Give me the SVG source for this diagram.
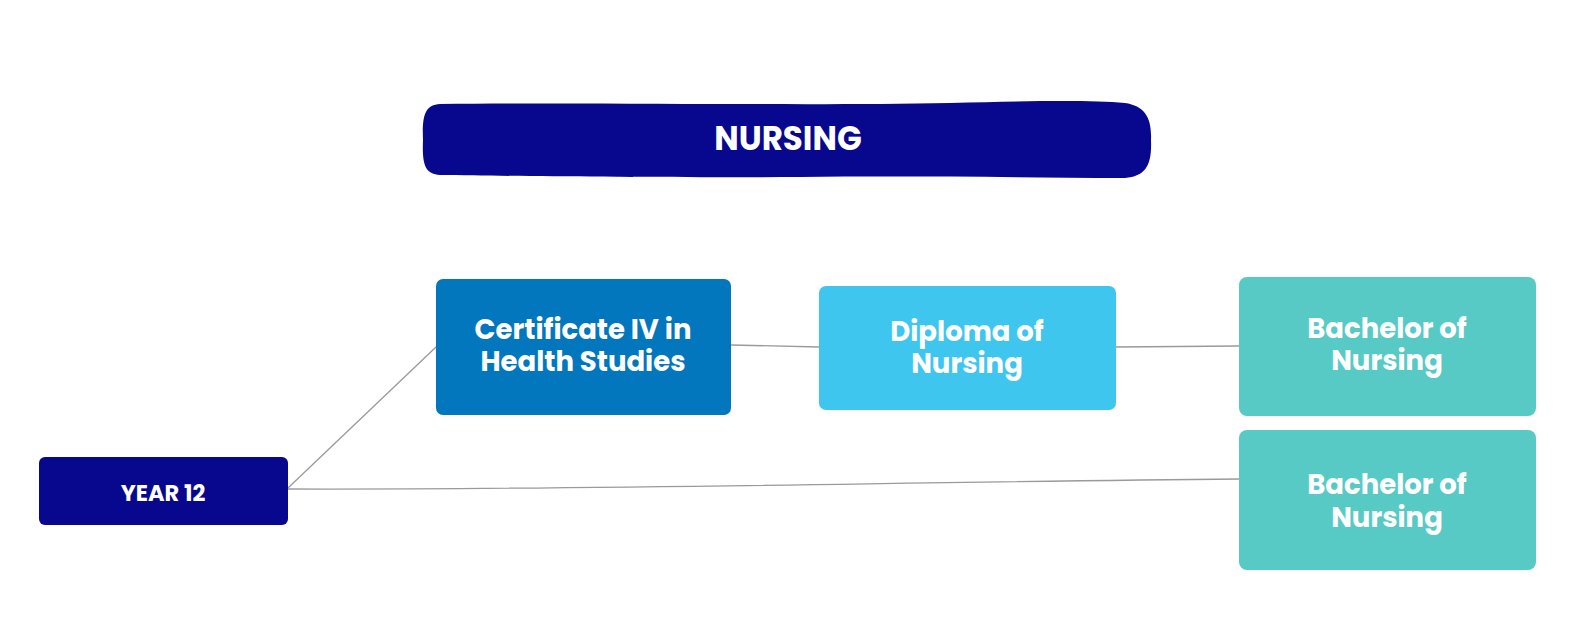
<svg xmlns="http://www.w3.org/2000/svg" width="1579" height="641" viewBox="0 0 1579 641">
<style>
.lbl{font-family:"Poppins","Open Sans","Liberation Sans",sans-serif;font-weight:700;fill:#ffffff;text-anchor:middle}
.big{font-size:27.5px}
.conn{fill:none;stroke:#9a9a9a;stroke-width:1.3}
</style>
<rect width="1579" height="641" fill="#ffffff"/>
<g id="title">
<path d="M440,104 C600,102 800,106 950,103 C1030,101 1090,100 1125,103 C1145,106 1152,118 1151,140 C1152,165 1146,176 1125,178 C1000,177 900,176 800,177 C650,178 520,176 440,175 C425,174 422,165 423,140 C422,115 425,105 440,104 Z" fill="#08088F"/>
<text class="lbl" x="788" y="150" font-size="32.5">NURSING</text>
</g>
<g id="connectors">
<path class="conn" d="M288,488 L436,347"/>
<path class="conn" d="M731,345 L819,347"/>
<path class="conn" d="M1116,347 L1239,346"/>
<path class="conn" d="M288,489 C600,490 900,482 1239,479"/>
</g>
<g id="year12">
<rect x="39" y="457" width="249" height="68" rx="6" fill="#08088F"/>
<text class="lbl" x="163" y="501" font-size="22.5">YEAR 12</text>
</g>
<g id="cert4">
<rect x="436" y="279" width="295" height="136" rx="7" fill="#0277BD"/>
<text class="lbl big" x="583" y="339">Certificate IV in</text>
<text class="lbl big" x="583" y="371">Health Studies</text>
</g>
<g id="diploma">
<rect x="819" y="286" width="297" height="124" rx="7" fill="#3EC6EF"/>
<text class="lbl big" x="967" y="341">Diploma of</text>
<text class="lbl big" x="967" y="373">Nursing</text>
</g>
<g id="bachelor1">
<rect x="1239" y="277" width="297" height="139" rx="8" fill="#58CAC6"/>
<text class="lbl big" x="1387" y="338">Bachelor of</text>
<text class="lbl big" x="1387" y="370">Nursing</text>
</g>
<g id="bachelor2">
<rect x="1239" y="430" width="297" height="140" rx="8" fill="#58CAC6"/>
<text class="lbl big" x="1387" y="494">Bachelor of</text>
<text class="lbl big" x="1387" y="527">Nursing</text>
</g>
</svg>
